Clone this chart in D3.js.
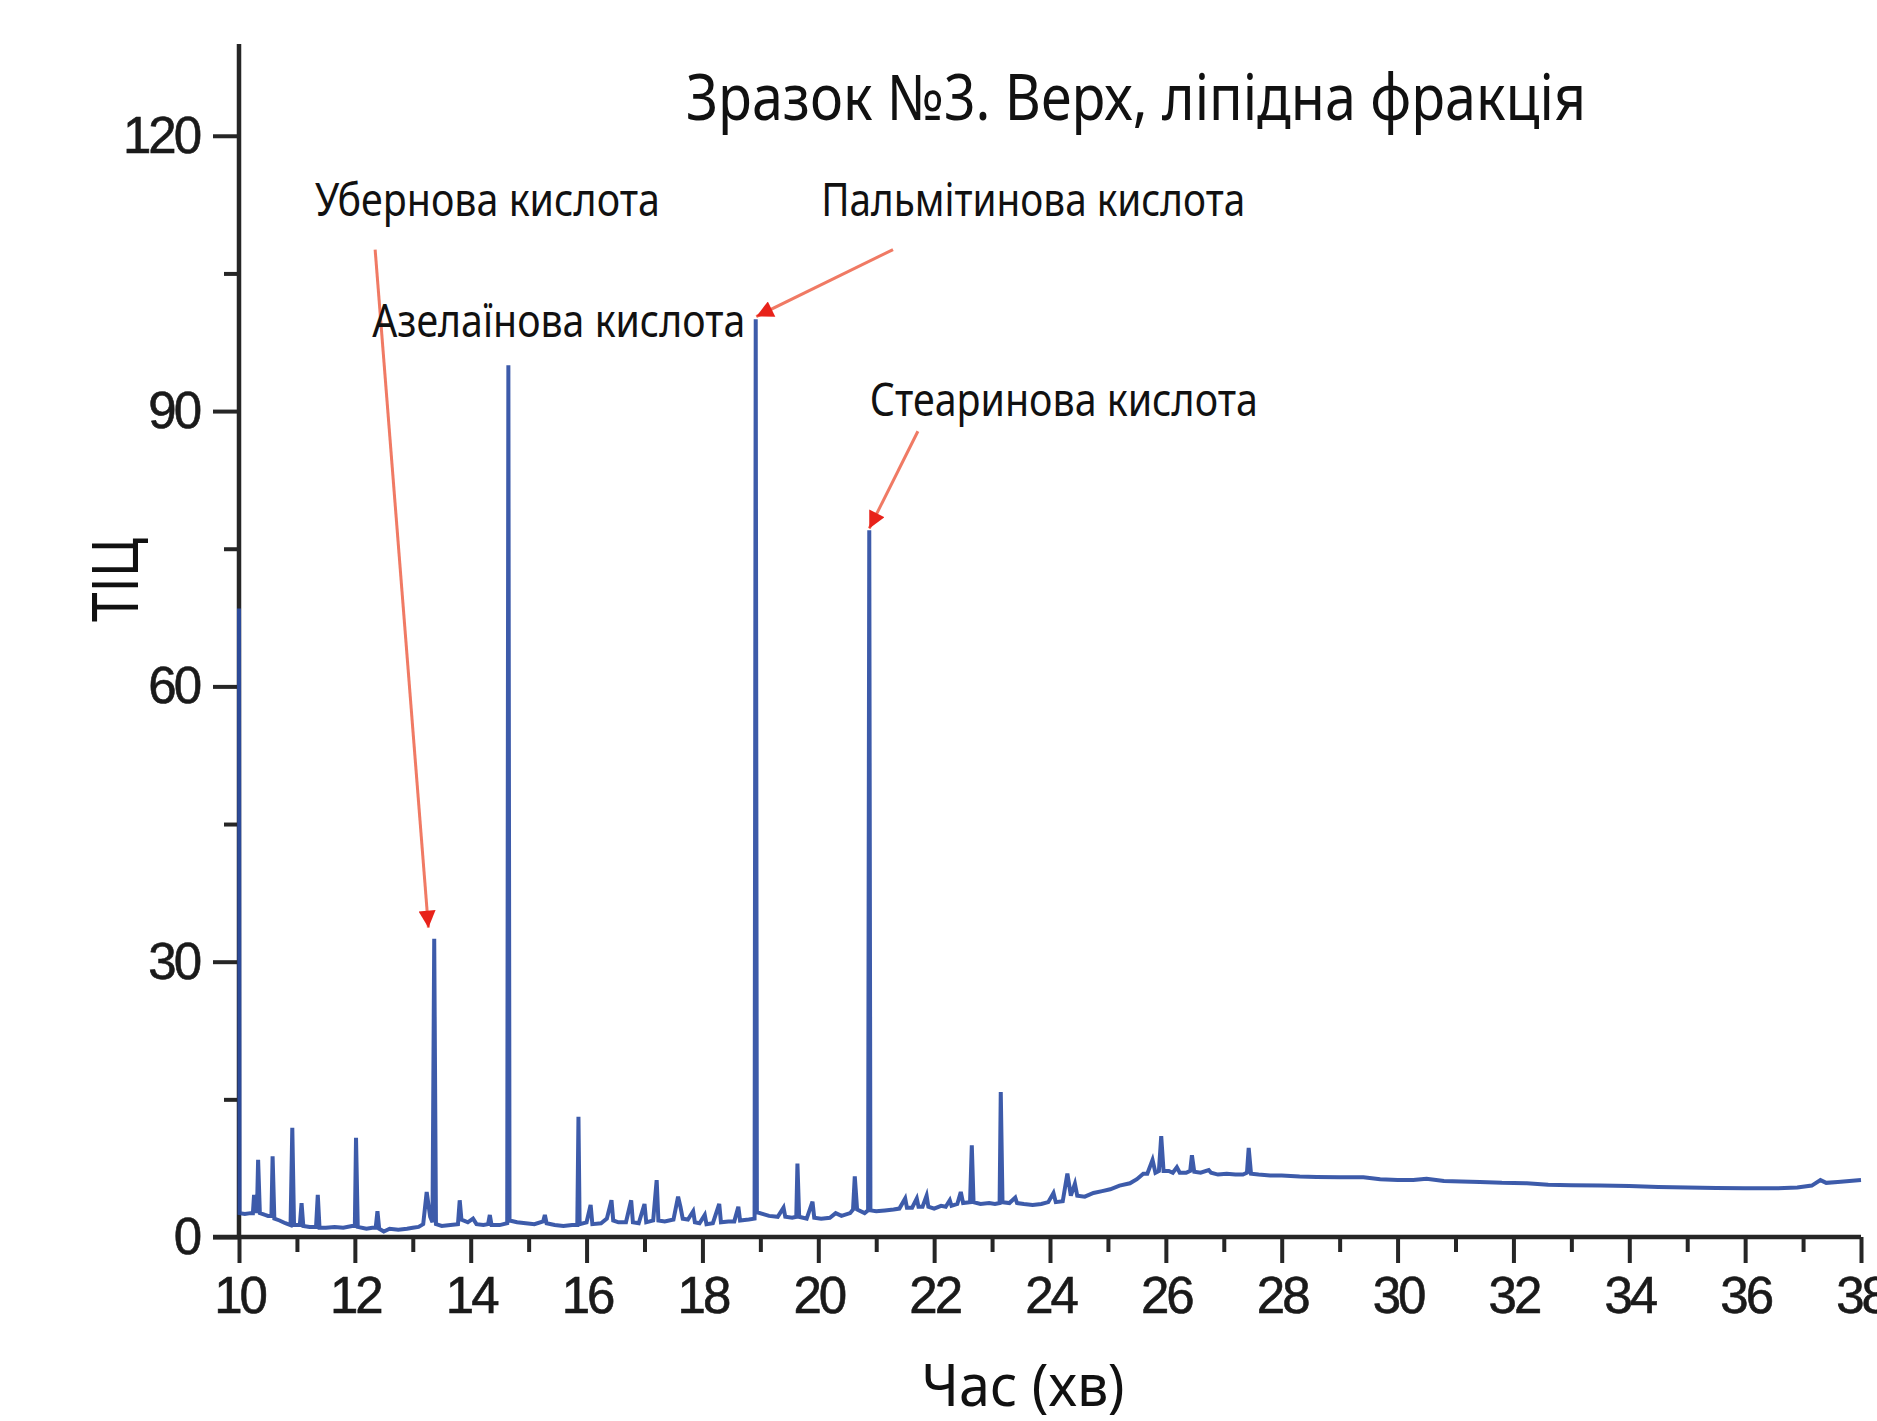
<!DOCTYPE html>
<html>
<head>
<meta charset="utf-8">
<script src="https://cdn.jsdelivr.net/npm/d3@7"></script>
<style>
  body { margin: 0; background: #fff; }
  svg { display: block; }
</style>
</head>
<body>
<div id="chart"></div>
<script>
// chromatogram: retention time (min) and TIC intensity
const timeMin = [
  10.00, 10.01, 10.10, 10.20, 10.24, 10.26, 10.29, 10.31, 10.33, 10.36, 10.45, 10.50, 10.56, 10.58, 10.61,
  10.70, 10.80, 10.89, 10.92, 10.95, 11.05, 11.08, 11.11, 11.22, 11.33, 11.36, 11.39, 11.50, 11.65, 11.80,
  11.95, 12.00, 12.02, 12.05, 12.20, 12.30, 12.36, 12.39, 12.42, 12.50, 12.60, 12.75, 12.90, 13.00, 13.10,
  13.18, 13.24, 13.30, 13.34, 13.37, 13.40, 13.50, 13.65, 13.78, 13.81, 13.84, 13.95, 14.04, 14.10, 14.22,
  14.30, 14.33, 14.36, 14.50, 14.63, 14.65, 14.67, 14.80, 14.95, 15.10, 15.25, 15.28, 15.31, 15.45, 15.60,
  15.75, 15.84, 15.86, 15.88, 16.00, 16.07, 16.10, 16.25, 16.35, 16.43, 16.46, 16.55, 16.68, 16.77, 16.80,
  16.90, 17.00, 17.03, 17.15, 17.21, 17.24, 17.35, 17.50, 17.58, 17.62, 17.66, 17.75, 17.84, 17.87, 17.95,
  18.04, 18.07, 18.18, 18.29, 18.32, 18.45, 18.55, 18.62, 18.65, 18.80, 18.90, 18.92, 18.94, 19.05, 19.15,
  19.30, 19.40, 19.43, 19.55, 19.62, 19.64, 19.67, 19.80, 19.90, 19.93, 20.05, 20.20, 20.30, 20.40, 20.55,
  20.60, 20.63, 20.67, 20.80, 20.86, 20.88, 20.90, 21.00, 21.15, 21.30, 21.40, 21.50, 21.53, 21.62, 21.70,
  21.73, 21.80, 21.87, 21.90, 22.00, 22.12, 22.20, 22.27, 22.30, 22.40, 22.46, 22.50, 22.62, 22.65, 22.68,
  22.80, 22.95, 23.05, 23.13, 23.15, 23.18, 23.30, 23.40, 23.43, 23.55, 23.70, 23.85, 23.97, 24.06, 24.10,
  24.22, 24.30, 24.36, 24.43, 24.47, 24.60, 24.75, 24.90, 25.04, 25.20, 25.38, 25.50, 25.61, 25.68, 25.77,
  25.82, 25.88, 25.92, 25.96, 26.05, 26.12, 26.19, 26.24, 26.35, 26.42, 26.45, 26.49, 26.60, 26.74, 26.78,
  26.90, 27.05, 27.20, 27.33, 27.40, 27.43, 27.47, 27.60, 27.80, 28.00, 28.31, 28.60, 29.00, 29.41, 29.70,
  30.00, 30.27, 30.50, 30.80, 31.10, 31.42, 31.80, 32.23, 32.60, 33.00, 33.50, 34.00, 34.50, 35.00, 35.50,
  36.00, 36.50, 36.90, 37.15, 37.30, 37.40, 37.60, 37.80, 38.00
];
const ticValues = [
  68.5, 2.6, 2.5, 2.6, 2.6, 4.6, 2.8, 2.8, 8.4, 2.6, 2.4, 2.3, 2.3, 8.8, 2.0,
  1.8, 1.5, 1.3, 11.9, 1.3, 1.3, 3.7, 1.2, 1.1, 1.1, 4.6, 1.0, 1.0, 1.1, 1.0,
  1.2, 1.2, 10.8, 1.1, 0.9, 1.0, 1.0, 2.8, 0.9, 0.6, 0.9, 0.8, 0.9, 1.0, 1.1,
  1.4, 4.9, 2.2, 1.6, 32.5, 1.4, 1.2, 1.3, 1.4, 4.0, 1.9, 1.6, 2.0, 1.4, 1.3,
  1.4, 2.4, 1.3, 1.3, 1.5, 95, 1.8, 1.6, 1.5, 1.4, 1.7, 2.4, 1.5, 1.3, 1.2,
  1.3, 1.3, 13.1, 1.4, 1.6, 3.5, 1.4, 1.5, 2.0, 4.0, 1.8, 1.6, 1.6, 4.0, 1.6,
  1.5, 3.6, 1.6, 1.8, 6.2, 1.8, 1.7, 1.9, 4.4, 3.3, 2.0, 1.9, 2.8, 1.6, 1.5,
  2.4, 1.4, 1.5, 3.6, 1.6, 1.7, 1.7, 3.3, 1.8, 1.9, 2.0, 100, 2.7, 2.5, 2.3,
  2.2, 3.2, 2.2, 2.1, 2.2, 8.0, 2.2, 2.0, 3.85, 2.1, 2.0, 2.1, 2.6, 2.3, 2.6,
  3.0, 6.6, 3.0, 2.6, 2.9, 77, 2.9, 2.8, 2.9, 3.0, 3.1, 4.2, 3.2, 3.2, 4.2,
  3.3, 3.3, 4.5, 3.3, 3.1, 3.4, 3.3, 4.0, 3.4, 3.6, 4.9, 3.7, 3.8, 10.0, 3.8,
  3.6, 3.7, 3.6, 3.7, 15.8, 3.8, 3.7, 4.3, 3.7, 3.6, 3.5, 3.6, 3.8, 4.8, 3.8,
  3.9, 6.9, 4.5, 5.8, 4.5, 4.4, 4.8, 5.0, 5.2, 5.6, 5.85, 6.3, 6.9, 6.9, 8.4,
  7.0, 7.2, 11.0, 7.2, 7.2, 7.0, 7.6, 7.0, 7.0, 7.2, 8.9, 7.1, 7.0, 7.3, 7.0,
  6.8, 6.9, 6.8, 6.8, 7.0, 9.7, 6.9, 6.8, 6.7, 6.7, 6.6, 6.55, 6.5, 6.5, 6.3,
  6.2, 6.2, 6.35, 6.1, 6.05, 6.0, 5.9, 5.85, 5.7, 5.65, 5.6, 5.55, 5.45, 5.4, 5.35,
  5.3, 5.3, 5.4, 5.6, 6.2, 5.9, 6.0, 6.1, 6.2
];

const xMajorTicks = [10, 12, 14, 16, 18, 20, 22, 24, 26, 28, 30, 32, 34, 36, 38];
const xMinorTicks = [11, 13, 15, 17, 19, 21, 23, 25, 27, 29, 31, 33, 35, 37];
const yMajorTicks = [0, 30, 60, 90, 120];
const yMinorTicks = [15, 45, 75, 105];

// annotations: label anchor and arrow, all in data units
const acidNames = ["Убернова кислота", "Азелаїнова кислота", "Пальмітинова кислота", "Стеаринова кислота"];
const labelTime = [11.31, 12.30, 20.05, 20.89];
const labelTic = [111.3, 98.1, 111.3, 89.5];
const labelWidth = [345, 373, 424, 388];
const arrowFromTime = [12.35, null, 21.29, 21.72];
const arrowFromTic = [107.6, null, 107.6, 87.8];
const arrowToTime = [13.27, null, 18.93, 20.88];
const arrowToTic = [33.7, null, 100.3, 77.2];

const chartTitle = "Зразок №3. Верх, ліпідна фракція";
const xTitle = "Час (хв)";
const yTitle = "ТІЦ";

let width = 1877,
  height = 1421,
  plotLeft = 239,
  plotRight = 1861,
  plotBottom = 1237,
  plotTop = 44;

let svg = d3
  .select("#chart")
  .append("svg")
  .attr("width", width)
  .attr("height", height);

let xScale = d3.scaleLinear().domain([10, 38]).range([plotLeft, plotRight]);
let yScale = d3.scaleLinear().domain([0, 130]).range([plotBottom, plotTop]);

let axisColor = "#262626";
let tickFont = '"Liberation Sans", Arial, sans-serif';
let textFont = '"Noto Sans", "Open Sans", sans-serif';

// minor ticks first, majors on top
svg
  .append("g")
  .attr("transform", "translate(0," + plotBottom + ")")
  .call(d3.axisBottom(xScale).tickValues(xMinorTicks).tickSize(15).tickFormat(""))
  .call((g) => g.select(".domain").remove());
svg
  .append("g")
  .attr("transform", "translate(" + plotLeft + ",0)")
  .call(d3.axisLeft(yScale).tickValues(yMinorTicks).tickSize(15).tickFormat(""))
  .call((g) => g.select(".domain").remove());

let xAxis = svg
  .append("g")
  .attr("id", "x-axis")
  .attr("transform", "translate(0," + plotBottom + ")")
  .call(
    d3.axisBottom(xScale).tickValues(xMajorTicks).tickSize(26).tickSizeOuter(0).tickPadding(14)
  );
let yAxis = svg
  .append("g")
  .attr("id", "y-axis")
  .attr("transform", "translate(" + plotLeft + ",0)")
  .call(
    d3.axisLeft(yScale).tickValues(yMajorTicks).tickSize(26).tickSizeOuter(0).tickPadding(14)
  );

svg.selectAll(".tick line").attr("stroke", axisColor).attr("stroke-width", 4);
svg.selectAll(".domain").attr("stroke", axisColor).attr("stroke-width", 4.5);
svg
  .selectAll(".tick text")
  .attr("fill", "#1a1a1a")
  .attr("stroke", "#1a1a1a")
  .attr("stroke-width", 0.6)
  .style("font-family", tickFont)
  .style("font-size", "51px")
  .style("letter-spacing", "-3px");

// x domain line starts at the 0 tick end
xAxis.select(".domain").attr("d", "M" + (plotLeft - 26) + ",0H" + plotRight);
yAxis.select(".domain").attr("d", "M0," + plotBottom + "V" + plotTop);

// chromatogram trace
let points = timeMin.map((t, i) => [t, ticValues[i]]);
let line = d3
  .line()
  .x((d) => xScale(d[0]))
  .y((d) => yScale(d[1]));

svg
  .append("path")
  .datum(points)
  .attr("d", line)
  .attr("fill", "none")
  .attr("stroke", "#2d4da3")
  .attr("stroke-width", 4)
  .attr("stroke-linejoin", "miter")
  .attr("stroke-opacity", 0.92);

// arrowhead
svg
  .append("defs")
  .append("marker")
  .attr("id", "head")
  .attr("markerUnits", "userSpaceOnUse")
  .attr("viewBox", "0 0 10 10")
  .attr("refX", 10)
  .attr("refY", 5)
  .attr("markerWidth", 26)
  .attr("markerHeight", 17)
  .attr("orient", "auto")
  .append("path")
  .attr("d", "M0,0L10,5L0,10z")
  .attr("fill", "#e8221a");

acidNames.forEach((name, i) => {
  svg
    .append("text")
    .attr("x", xScale(labelTime[i]))
    .attr("y", yScale(labelTic[i]))
    .attr("textLength", labelWidth[i])
    .attr("lengthAdjust", "spacingAndGlyphs")
    .style("font-family", textFont)
    .style("font-size", "45px")
    .attr("fill", "#111")
    .text(name);
  if (arrowFromTime[i] !== null) {
    svg
      .append("line")
      .attr("x1", xScale(arrowFromTime[i]))
      .attr("y1", yScale(arrowFromTic[i]))
      .attr("x2", xScale(arrowToTime[i]))
      .attr("y2", yScale(arrowToTic[i]))
      .attr("stroke", "#f07a64")
      .attr("stroke-width", 3)
      .attr("marker-end", "url(#head)");
  }
});

// titles
svg
  .append("text")
  .attr("x", 686)
  .attr("y", 120)
  .attr("textLength", 900)
  .attr("lengthAdjust", "spacingAndGlyphs")
  .style("font-family", textFont)
  .style("font-size", "63px")
  .attr("fill", "#111")
  .text(chartTitle);

svg
  .append("text")
  .attr("x", 1023)
  .attr("y", 1406)
  .attr("text-anchor", "middle")
  .attr("textLength", 203)
  .attr("lengthAdjust", "spacingAndGlyphs")
  .style("font-family", textFont)
  .style("font-size", "58px")
  .attr("fill", "#111")
  .text(xTitle);

svg
  .append("text")
  .attr("transform", "translate(138,580) rotate(-90)")
  .attr("text-anchor", "middle")
  .attr("textLength", 84)
  .attr("lengthAdjust", "spacingAndGlyphs")
  .style("font-family", textFont)
  .style("font-size", "64px")
  .attr("fill", "#111")
  .text(yTitle);
</script>
</body>
</html>
